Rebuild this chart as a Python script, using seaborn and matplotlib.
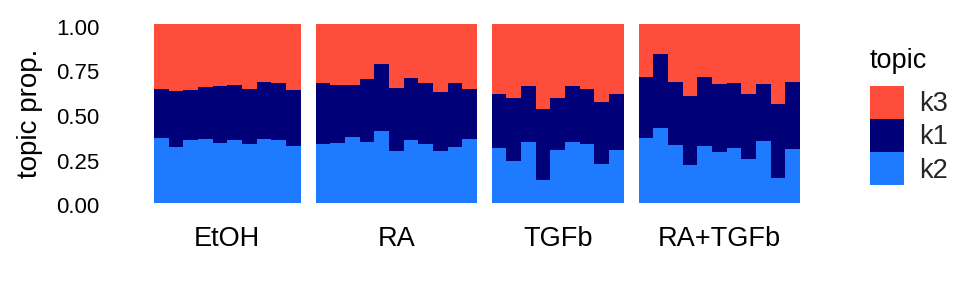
import matplotlib
matplotlib.use("Agg")
import matplotlib.pyplot as plt
import matplotlib.transforms as mtransforms
from matplotlib.patches import Patch
import seaborn as sns
import pandas as pd

# ---- data ----
conditions = ["EtOH", "RA", "TGFb", "RA+TGFb"]
topics = ["k3", "k1", "k2"]  # legend order / top-to-bottom stacking

etoh_k2 = [0.362, 0.312, 0.351, 0.356, 0.334, 0.351, 0.328, 0.356, 0.351, 0.317]
etoh_k1 = [0.274, 0.313, 0.280, 0.291, 0.319, 0.308, 0.308, 0.319, 0.319, 0.314]
etoh_k3 = [0.364, 0.375, 0.369, 0.353, 0.347, 0.341, 0.364, 0.325, 0.330, 0.369]

ra_k2 = [0.328, 0.334, 0.368, 0.340, 0.401, 0.289, 0.351, 0.328, 0.289, 0.312, 0.356]
ra_k1 = [0.342, 0.325, 0.291, 0.352, 0.375, 0.353, 0.347, 0.342, 0.330, 0.358, 0.280]
ra_k3 = [0.330, 0.341, 0.341, 0.308, 0.224, 0.358, 0.302, 0.330, 0.381, 0.330, 0.364]

tgfb_k2 = [0.306, 0.233, 0.340, 0.127, 0.295, 0.340, 0.328, 0.216, 0.295]
tgfb_k1 = [0.302, 0.353, 0.313, 0.397, 0.291, 0.313, 0.308, 0.347, 0.313]
tgfb_k3 = [0.392, 0.414, 0.347, 0.476, 0.414, 0.347, 0.364, 0.437, 0.392]

ratgfb_k2 = [0.362, 0.418, 0.323, 0.211, 0.317, 0.284, 0.306, 0.244, 0.345, 0.138, 0.300]
ratgfb_k1 = [0.341, 0.414, 0.352, 0.386, 0.386, 0.380, 0.364, 0.364, 0.319, 0.414, 0.375]
ratgfb_k3 = [0.297, 0.168, 0.325, 0.403, 0.297, 0.336, 0.330, 0.392, 0.336, 0.448, 0.325]

ytick_vals = [0.0, 0.25, 0.5, 0.75, 1.0]
ytick_labels = ["0.00", "0.25", "0.50", "0.75", "1.00"]

series = {
    "EtOH": {"k1": etoh_k1, "k2": etoh_k2, "k3": etoh_k3},
    "RA": {"k1": ra_k1, "k2": ra_k2, "k3": ra_k3},
    "TGFb": {"k1": tgfb_k1, "k2": tgfb_k2, "k3": tgfb_k3},
    "RA+TGFb": {"k1": ratgfb_k1, "k2": ratgfb_k2, "k3": ratgfb_k3},
}

palette = {"k3": "#FF4D3B", "k1": "#000078", "k2": "#1E7BFF"}

# ---- style ----
sns.set_style("white")
plt.rcParams["font.family"] = ["Liberation Sans", "DejaVu Sans"]

rows = []
for cond in conditions:
    for t in topics:
        for i, v in enumerate(series[cond][t]):
            rows.append({"condition": cond, "sample": i, "topic": t, "prop": v})
df = pd.DataFrame(rows)

counts = [len(series[c]["k1"]) for c in conditions]
fig = plt.figure(figsize=(9.6, 3.0), dpi=100)
gs = fig.add_gridspec(1, 4, width_ratios=counts, left=154/960, right=800/960,
                      top=1-24/300, bottom=1-202.5/300, wspace=0.0998)

for j, cond in enumerate(conditions):
    ax = fig.add_subplot(gs[0, j])
    sub = df[df["condition"] == cond]
    sns.histplot(data=sub, x="sample", weights="prop", hue="topic",
                 hue_order=topics, multiple="stack", discrete=True, shrink=1,
                 palette=palette, alpha=1, linewidth=0, legend=False, ax=ax)
    ax.set_xlim(-0.5, counts[j] - 0.5)
    ax.set_ylim(0, 1)
    ax.set_xticks([])
    ax.set_xlabel("")
    ax.set_ylabel("")
    for s in ax.spines.values():
        s.set_visible(False)
    if j == 0:
        ax.set_yticks(ytick_vals)
        ax.set_yticklabels(ytick_labels)
        ax.tick_params(axis="y", length=0, pad=39.5, labelsize=16, labelcolor="black")
        offset = mtransforms.ScaledTranslation(0, -2.0/72, fig.dpi_scale_trans)
        for lbl in ax.get_yticklabels():
            lbl.set_transform(lbl.get_transform() + offset)
    else:
        ax.set_yticks([])
    trans = mtransforms.blended_transform_factory(ax.transAxes, fig.transFigure)
    ax.text(0.5, 1 - 245.5/300, cond, transform=trans,
            ha="center", va="baseline", fontsize=19.5, color="black")

fig.text(30/960, 1 - 113.5/300, "topic prop.", rotation=90, ha="center", va="center",
         fontsize=20, color="black")

# legend: title drawn separately, then contiguous patches
fig.text(870/960, 1 - 68.3/300, "topic", ha="left", va="baseline",
         fontsize=19.5, color="black")
handles = [Patch(facecolor=palette[t], edgecolor="none", label=t) for t in topics]
leg = fig.legend(handles=handles, loc="upper left",
                 bbox_to_anchor=(870/960, 1 - 86/300), frameon=False,
                 fontsize=19.5, handlelength=1.25, handleheight=1.5,
                 labelspacing=0, handletextpad=0.55, borderpad=0, borderaxespad=0)

fig.savefig("out.png", dpi=100)
